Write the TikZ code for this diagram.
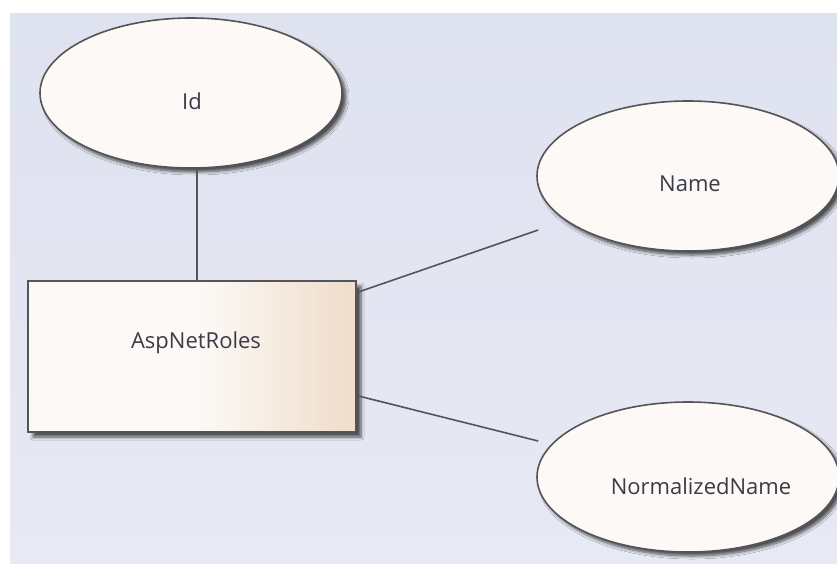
\documentclass[tikz,border=0pt]{standalone}
\usepackage{fontspec}
\setmainfont{Open Sans}
\usetikzlibrary{shapes.geometric,calc,shadows.blur}

\definecolor{bgtop}{RGB}{223,226,239}
\definecolor{bgbot}{RGB}{231,234,244}
\definecolor{attrfill}{RGB}{252,249,246}
\definecolor{boxleft}{RGB}{252,249,246}
\definecolor{boxright}{RGB}{240,223,206}
\definecolor{edgegray}{RGB}{85,85,85}
\definecolor{textgray}{RGB}{58,58,72}

% the path fills the middle half (25bp..75bp) of the shading
\pgfdeclarehorizontalshading{entityfade}{100bp}{%
  color(0bp)=(boxleft); color(51bp)=(boxleft); color(73bp)=(boxright); color(100bp)=(boxright)}

\tikzset{
  attribute/.style={ellipse, draw=edgegray, line width=1.6pt, fill=attrfill,
    minimum width=302pt, minimum height=150pt, inner sep=0pt,
    blur shadow={shadow xshift=4pt, shadow yshift=-4pt, shadow blur steps=6,
      shadow blur radius=3pt, shadow opacity=65}},
  entity/.style={rectangle, draw=edgegray, line width=1.6pt, shading=entityfade,
    minimum width=328pt, minimum height=151pt, inner sep=0pt,
    blur shadow={shadow xshift=5pt, shadow yshift=-5pt, shadow blur steps=6,
      shadow blur radius=3pt, shadow opacity=65}},
  caption/.style={text=textgray, font=\fontsize{22}{26}\selectfont, inner sep=0pt},
  link/.style={draw=edgegray, line width=1.6pt}
}

\begin{document}
\begin{tikzpicture}[x=1pt, y=-1pt]
  % canvas and diagram background
  \useasboundingbox (0,0) rectangle (837,563);
  \fill[white] (0,0) rectangle (837,563);
  \shade[top color=bgtop, bottom color=bgbot] (10,13) rectangle (837,563);

  % attribute ellipses
  \node[attribute] (Id) at (191,93) {};
  \node[attribute] (Name) at (688,176) {};
  \node[attribute] (NormName) at (688,477) {};

  % entity box
  \node[entity] (Roles) at (192,356.5) {};

  % texts
  \node[caption] (IdText) at (192,101) {Id};
  \node[caption] (NameText) at (690,184) {Name};
  \node[caption] (NormNameText) at (701,486) {NormalizedName};
  \node[caption] (RolesText) at (196,343) {AspNetRoles};

  % connector end points
  \coordinate (IdFoot) at ($(Id.south)+(6,0)$);
  \coordinate (RolesTop) at ($(Roles.north)+(5,0)$);
  \coordinate (RolesUpper) at ($(Roles.north east)+(1,12)$);
  \coordinate (RolesLower) at ($(Roles.south east)+(1,-37)$);
  \coordinate (NameEnd) at ($(Name.west)+(2,54)$);
  \coordinate (NormNameEnd) at ($(NormName.west)+(2,-36)$);

  % connectors
  \draw[link] (IdFoot) -- (RolesTop);
  \draw[link] (RolesUpper) -- (NameEnd);
  \draw[link] (RolesLower) -- (NormNameEnd);
\end{tikzpicture}
\end{document}
